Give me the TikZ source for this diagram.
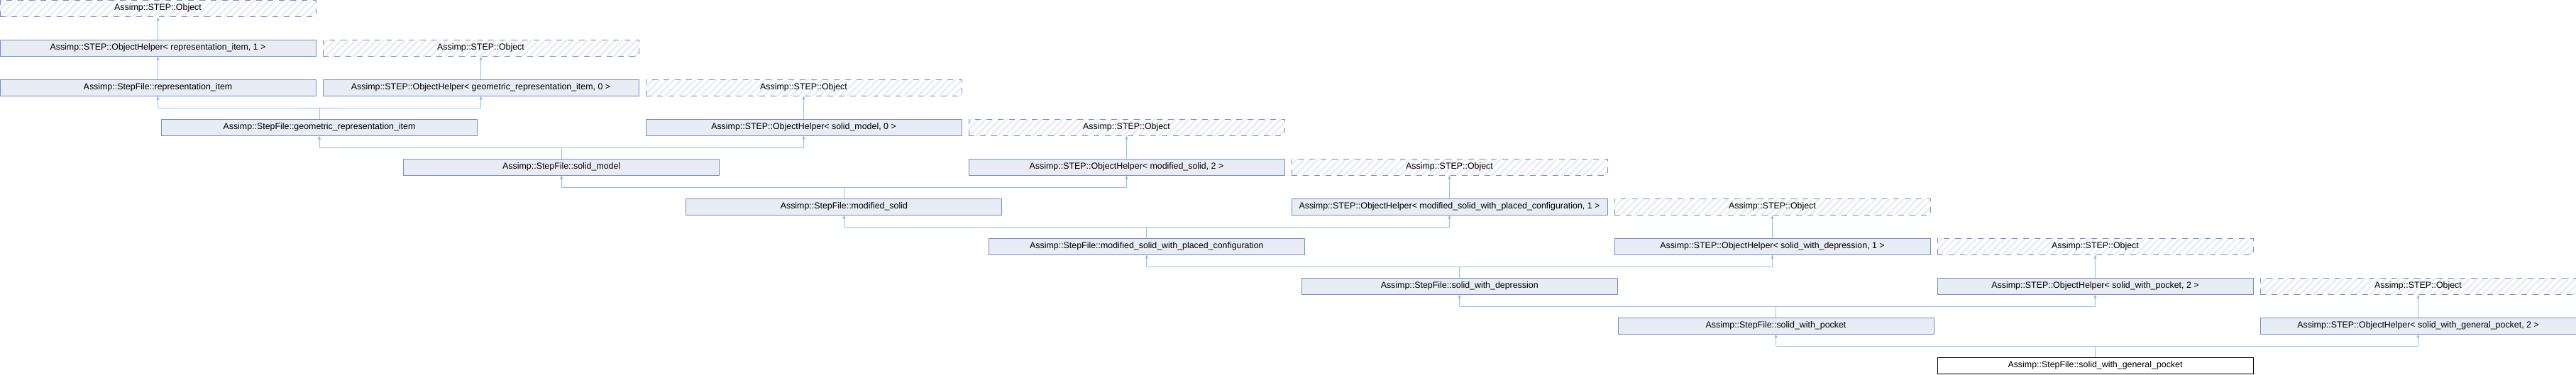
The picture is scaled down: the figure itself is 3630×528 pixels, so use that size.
\documentclass[tikz,border=0pt]{standalone}
\usepackage{fontspec}
\setmainfont{Liberation Sans}
\usetikzlibrary{patterns.meta,arrows.meta}
\definecolor{boxfill}{RGB}{232,236,244}
\definecolor{boxborder}{RGB}{118,140,198}
\definecolor{hatch}{RGB}{234,237,244}
\definecolor{conn}{RGB}{140,196,230}
\begin{document}
\begin{tikzpicture}[x=1pt,y=-1pt,
  cls/.style={draw=boxborder,line width=1pt,fill=boxfill,minimum width=445pt,minimum height=23pt,inner sep=0pt,font=\fontsize{12.4}{14}\selectfont,text=black},
  ext/.style={cls,fill=none,pattern={Lines[angle=45,distance=7pt,line width=2.6pt]},pattern color=hatch,dash pattern=on 8pt off 8pt},
  mainbox/.style={cls,fill=white,draw=black,line width=1pt},
  edge/.style={draw=conn,line width=1pt},
  inh/.style={edge,-{Triangle[length=5pt,width=4pt]}}]
\fill[white] (0,0) rectangle (3630,528);
\useasboundingbox (0,0) rectangle (3630,528);
% row 0
\node[ext] (o0) at (222.5,11.5) {Assimp::STEP::Object};
% row 1
\node[cls] (ohr) at (222.5,67.5) {Assimp::STEP::ObjectHelper< representation\_item, 1 >};
\node[ext] (o1) at (677.5,67.5) {Assimp::STEP::Object};
% row 2
\node[cls] (ri) at (222.5,123.5) {Assimp::StepFile::representation\_item};
\node[cls] (ohg) at (677.5,123.5) {Assimp::STEP::ObjectHelper< geometric\_representation\_item, 0 >};
\node[ext] (o2) at (1132.5,123.5) {Assimp::STEP::Object};
% row 3
\node[cls] (gri) at (450,179.5) {Assimp::StepFile::geometric\_representation\_item};
\node[cls] (ohsm) at (1132.5,179.5) {Assimp::STEP::ObjectHelper< solid\_model, 0 >};
\node[ext] (o3) at (1587.5,179.5) {Assimp::STEP::Object};
% row 4
\node[cls] (sm) at (791.25,235.5) {Assimp::StepFile::solid\_model};
\node[cls] (ohms) at (1587.5,235.5) {Assimp::STEP::ObjectHelper< modified\_solid, 2 >};
\node[ext] (o4) at (2042.5,235.5) {Assimp::STEP::Object};
% row 5
\node[cls] (ms) at (1189.4,291.5) {Assimp::StepFile::modified\_solid};
\node[cls] (ohmp) at (2042.5,291.5) {Assimp::STEP::ObjectHelper< modified\_solid\_with\_placed\_configuration, 1 >};
\node[ext] (o5) at (2497.5,291.5) {Assimp::STEP::Object};
% row 6
\node[cls] (mp) at (1615.9,347.5) {Assimp::StepFile::modified\_solid\_with\_placed\_configuration};
\node[cls] (ohsd) at (2497.5,347.5) {Assimp::STEP::ObjectHelper< solid\_with\_depression, 1 >};
\node[ext] (o6) at (2952.5,347.5) {Assimp::STEP::Object};
% row 7
\node[cls] (sd) at (2056.7,403.5) {Assimp::StepFile::solid\_with\_depression};
\node[cls] (ohsp) at (2952.5,403.5) {Assimp::STEP::ObjectHelper< solid\_with\_pocket, 2 >};
\node[ext] (o7) at (3407.5,403.5) {Assimp::STEP::Object};
% row 8
\node[cls] (sp) at (2502.5,459.5) {Assimp::StepFile::solid\_with\_pocket};
\node[cls] (ohgp) at (3407.5,459.5) {Assimp::STEP::ObjectHelper< solid\_with\_general\_pocket, 2 >};
% row 9
\node[mainbox] (gp) at (2952.5,515.5) {Assimp::StepFile::solid\_with\_general\_pocket};
% single inheritance
\foreach \c/\p in {ohr/o0, ri/ohr, ohg/o1, ohsm/o2, ohms/o3, ohmp/o4, ohsd/o5, ohsp/o6, ohgp/o7}
  \draw[inh] (\c.north -| \p.south) -- (\p.south);
% double inheritance with bus
\foreach \c/\pa/\pb in {gri/ri/ohg, sm/gri/ohsm, ms/sm/ohms, mp/ms/ohmp, sd/mp/ohsd, sp/sd/ohsp, gp/sp/ohgp}{
  \coordinate (bus-\c) at ([yshift=15.5pt]\c.north);
  \draw[edge] (\c.north) -- (bus-\c);
  \draw[edge] (bus-\c -| \pa.south) -- (bus-\c -| \pb.south);
  \draw[inh] (bus-\c -| \pa.south) -- (\pa.south);
  \draw[inh] (bus-\c -| \pb.south) -- (\pb.south);
}
\end{tikzpicture}
\end{document}
